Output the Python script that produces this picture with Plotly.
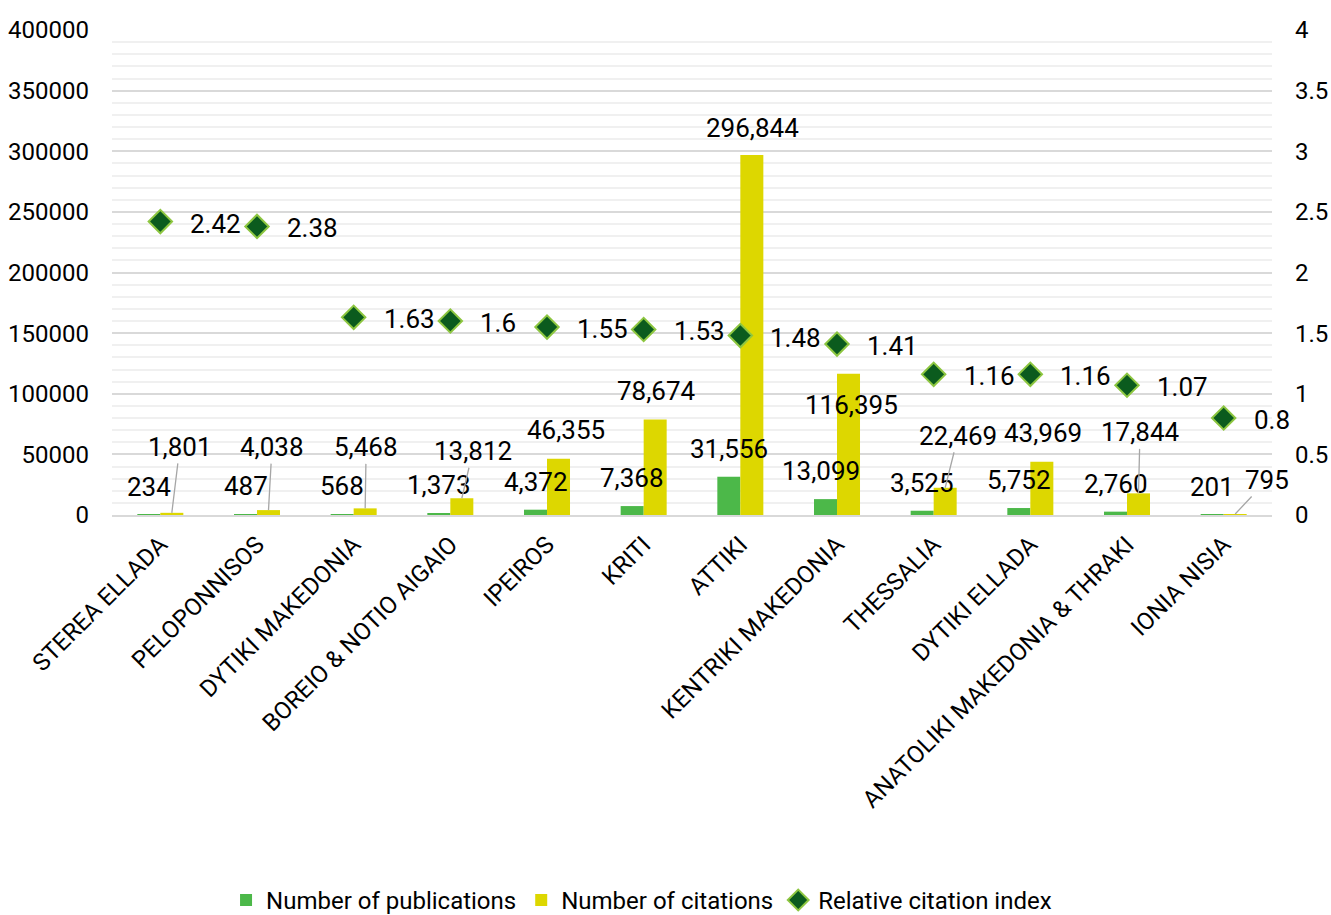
import plotly.graph_objects as go

# Regions, ordered by relative citation index
regions = [
    "STEREA ELLADA", "PELOPONNISOS", "DYTIKI MAKEDONIA", "BOREIO & NOTIO AIGAIO",
    "IPEIROS", "KRITI", "ATTIKI", "KENTRIKI MAKEDONIA", "THESSALIA",
    "DYTIKI ELLADA", "ANATOLIKI MAKEDONIA & THRAKI", "IONIA NISIA",
]
publications = [234, 487, 568, 1373, 4372, 7368, 31556, 13099, 3525, 5752, 2760, 201]
citations = [1801, 4038, 5468, 13812, 46355, 78674, 296844, 116395, 22469, 43969, 17844, 795]
citation_index = [2.42, 2.38, 1.63, 1.6, 1.55, 1.53, 1.48, 1.41, 1.16, 1.16, 1.07, 0.8]

left_ticks = [0, 50000, 100000, 150000, 200000, 250000, 300000, 350000, 400000]
right_ticks = [0, 0.5, 1, 1.5, 2, 2.5, 3, 3.5, 4]

# Label placement (pixel offsets of each label from the top of its bar)
pub_dx = [0, 0, 0, 0, 0, 0, 0, -5, 0, 0, 0, 0]
cit_dx = [8, 3.5, 1, 11, 7.5, 1, 1, 2.5, 13, 1, 1.5, 32]
cit_dy = [-66, -63, -61, -47, -29, -29, -27, 31, -52, -29, -61, -34]
cit_leader = [True, True, True, True, False, False, False, False, True, False, True, True]

GREEN = "#4CB849"
YELLOW = "#DDD700"
DIAMOND = "#0B5B1E"
DIAMOND_EDGE = "#8DC640"
FONT = "Roboto"
HALF_BAR = 11.5  # half of one bar's width in pixels

fig = go.Figure()
fig.add_trace(go.Bar(
    x=regions, y=publications, name="Number of publications",
    marker=dict(color=GREEN, line=dict(width=0)),
))
fig.add_trace(go.Bar(
    x=regions, y=citations, name="Number of citations",
    marker=dict(color=YELLOW, line=dict(width=0)),
))
fig.add_trace(go.Scatter(
    x=regions, y=citation_index, name="Relative citation index", yaxis="y2",
    mode="markers",
    marker=dict(symbol="diamond", size=18, color=DIAMOND,
                line=dict(color=DIAMOND_EDGE, width=2)),
))

annotations = []
label_font = dict(family=FONT, size=26, color="#000000")
for i, r in enumerate(regions):
    annotations.append(dict(
        x=r, y=publications[i], xref="x", yref="y",
        text=f"{publications[i]:,}", showarrow=False,
        xshift=-HALF_BAR + pub_dx[i], yshift=28,
        xanchor="center", yanchor="middle", font=label_font,
    ))
    annotations.append(dict(
        x=r, y=citations[i], xref="x", yref="y",
        text=f"{citations[i]:,}", showarrow=True,
        ax=cit_dx[i], ay=cit_dy[i], xshift=HALF_BAR,
        arrowhead=0, arrowwidth=1.3, standoff=0, startstandoff=0,
        arrowcolor="#A6A6A6" if cit_leader[i] else "rgba(0,0,0,0)",
        xanchor="center", yanchor="middle", font=label_font,
    ))
    annotations.append(dict(
        x=r, y=citation_index[i], xref="x", yref="y2",
        text=f"{citation_index[i]:g}", showarrow=False,
        xshift=28, yshift=-2, xanchor="left", yanchor="middle", font=label_font,
    ))

fig.update_layout(
    width=1331, height=915,
    margin=dict(l=112, r=59, t=30, b=400, autoexpand=False),
    paper_bgcolor="white", plot_bgcolor="white",
    font=dict(family=FONT, size=24, color="#000000"),
    barmode="group", bargap=0.524, bargroupgap=0,
    showlegend=True,
    legend=dict(
        orientation="h", xref="container", yref="container",
        x=0.482, y=0.016, xanchor="center", yanchor="middle",
        font=dict(family=FONT, size=24), itemwidth=30,
    ),
    xaxis=dict(
        type="category", range=[-0.5, 11.5], automargin=False,
        tickangle=-45, showline=True, linecolor="#D9D9D9",
        linewidth=2, ticks="", showgrid=False, ticklabelstandoff=4,
        tickfont=dict(family=FONT, size=24),
    ),
    yaxis=dict(
        range=[0, 400000], tickvals=left_ticks, tickformat="d", automargin=False,
        showgrid=True, gridcolor="#D9D9D9", gridwidth=1.5,
        minor=dict(dtick=10000, showgrid=True, gridcolor="#F0F0F0", gridwidth=1.5),
        zeroline=False, ticklabelstandoff=22, tickfont=dict(family=FONT, size=24),
    ),
    yaxis2=dict(
        range=[0, 4], tickvals=right_ticks, overlaying="y", side="right",
        automargin=False, showgrid=False, zeroline=False, ticklabelstandoff=22,
        tickfont=dict(family=FONT, size=24),
    ),
    annotations=annotations,
)

fig.write_html("out.html")
